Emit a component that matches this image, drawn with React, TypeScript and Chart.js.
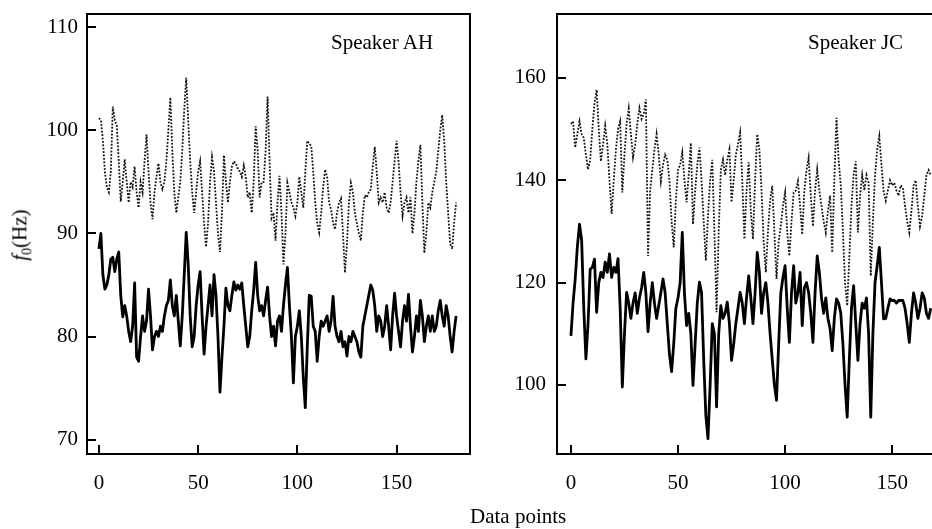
import React, { useEffect, useRef } from "react";
import { Chart, registerables } from "chart.js";

Chart.register(...registerables);

const FONT = "'Liberation Serif', 'Times New Roman', serif";

// Speaker AH (left panel)
const AH_UPPER: number[] = [
  101.2, 101, 99, 96, 94.5, 94, 96, 102.3, 101, 100.5,
  97, 93.1, 95, 97.2, 95, 93, 95, 94.5, 96.5, 94,
  92.5, 95, 94, 97, 99.6, 96, 93, 91.4, 94, 95.5,
  96.8, 95, 94.3, 95, 97, 100, 103.2, 98, 94, 92,
  93.5, 95, 98, 102, 105.1, 101, 97, 94, 92, 94,
  96, 97, 94, 91, 88.7, 91, 95, 97.4, 96, 93,
  90, 88.2, 92, 97.6, 95, 93, 95, 96.5, 97, 96.8,
  96.3, 96, 95.5, 96.6, 95.5, 93.5, 94, 92, 95, 100.4,
  98, 93.5, 95, 95, 98, 103.3, 97, 91.5, 92, 89.3,
  93, 95.6, 92, 87, 90, 94.9, 94, 93, 92.5, 91.7,
  93, 95.5, 94, 92.5, 96, 99, 98.7, 98.5, 96, 93,
  91, 90.1, 92, 94.5, 96.2, 95.5, 93, 92.3, 91, 90.4,
  92, 93, 93.4, 90, 86.2, 89, 93, 94.9, 94, 92,
  91, 90, 89.3, 92, 93.7, 93.5, 94, 94.3, 96.5, 98.4,
  96, 93, 93.5, 93, 94, 92.5, 92, 93, 95, 97,
  99, 97, 94, 91.7, 93, 93.5, 92, 93.5, 90, 92,
  95, 97, 98.6, 93, 88.1, 90, 93, 92.5, 94, 95,
  96, 98, 100, 101.5, 99, 95, 92, 89, 88.5, 91, 93,
];

const AH_LOWER: number[] = [
  88.5, 90, 86, 84.6, 85, 86, 87.5, 87.7, 86.3, 87.5,
  88.2, 84, 81.9, 83, 82, 80.5, 79.5, 81, 85.2, 78,
  77.6, 80, 82, 80.5, 81.5, 84.6, 82, 78.7, 80, 80.5,
  80, 81, 80.5, 82, 83, 83.5, 85.5, 83, 82, 84,
  81.5, 79.1, 82, 86, 90.1, 87, 82, 79, 80, 83,
  85, 86.3, 82, 78.3, 81, 83, 85, 82, 86, 84,
  80, 74.6, 78, 81, 84.7, 83, 82.5, 84, 85.3, 84.5,
  85, 84.6, 85.2, 83, 81, 79, 80, 82.5, 84.5, 87.2,
  84, 82.5, 83, 82, 83.5, 84.8, 82, 80, 81, 79.1,
  81.5, 82, 80.5, 83, 85, 86.7, 83, 80, 75.5, 80,
  81, 82.5, 80, 76, 73.1, 79, 84, 83.9, 81, 80.5,
  77.6, 80, 81.5, 81, 81.5, 82, 80.5, 81.5, 83.9, 81,
  80, 79.5, 80.5, 79, 79.5, 78.1, 80, 79.5, 80.5, 80,
  79.5, 78.5, 78, 81, 82, 83, 84, 85, 84.5, 83,
  80.5, 82, 81.5, 80, 81, 83, 81, 78.7, 82, 84.2,
  82, 80.5, 79, 81.5, 83, 81.5, 84.1, 81, 78.5, 80,
  82, 80.5, 83.5, 82, 79.5, 81, 82, 80.5, 82, 80.5,
  81, 82.5, 83.5, 82, 81, 83, 82, 80, 78.5, 80.5, 82,
];

// Speaker JC (right panel)
const JC_UPPER: number[] = [
  151, 151.5, 146.4, 149, 151.5, 149, 148.3, 145, 142.1, 144,
  150, 155, 157.7, 150, 143.7, 147, 150.6, 147, 140, 133.4,
  140, 146, 150, 151.5, 137.6, 145, 151, 154, 149, 144.5,
  147, 151, 154.1, 152, 153, 155.8, 125.2, 138, 142, 146,
  149, 145, 139.8, 143, 145, 144, 140, 132, 126.9, 136,
  142, 143, 145.4, 140, 135.7, 141, 147.3, 131.4, 138, 143,
  146.4, 140, 132, 124.3, 133, 140, 144, 130, 114.2, 130,
  142, 144, 141, 144, 146, 135.7, 140, 145, 147, 149.3,
  140, 128.5, 138, 143.5, 134, 128.5, 140, 149, 146, 138,
  128, 122, 130, 136, 138.9, 130, 120.7, 128, 131.1, 135,
  137.6, 130, 125.2, 132, 137.6, 138, 139.8, 135, 129.4, 138,
  142, 144.4, 137, 131, 138, 142.1, 138, 135, 132, 129.8,
  134, 137, 125.9, 140, 152.2, 144, 139, 130, 120, 115.5,
  125, 135, 141, 143.7, 129.8, 137, 141, 138, 141, 139.5,
  121.3, 132, 141, 146, 148.6, 143, 137.9, 136, 138, 140,
  139, 139.5, 138, 137, 139, 138.5, 135, 132, 129.8, 134,
  139, 140, 135, 131, 133, 137, 141, 142, 141,
];

const JC_LOWER: number[] = [
  109.6, 116, 120.7, 127, 131.4, 128.3, 115, 105.1, 112, 122.6,
  123, 124.6, 114.2, 120, 122, 121, 124, 122, 125.6, 121,
  123, 122, 124.7, 115, 99.6, 110, 118.1, 116, 113, 116,
  118, 114, 117, 119, 122, 118, 110.4, 116, 120, 116,
  113, 115.5, 118, 120.7, 118, 112, 106, 102.6, 108, 115,
  117, 120, 129.8, 118, 111.6, 114, 110, 99.9, 108, 116,
  120.1, 118, 105, 94, 89.5, 100, 112, 110, 95.7, 110,
  115.5, 113, 114, 116.2, 112, 104.8, 108, 112, 115, 118.1,
  116, 112, 117, 121.3, 117, 112, 118, 125.9, 122, 114,
  118, 120, 116, 110, 105, 100, 97, 108, 118, 121,
  123.3, 115, 108.3, 118, 123.3, 116, 118, 122, 111.6, 119,
  120, 118, 114, 108.3, 118, 125.2, 122, 117, 114, 117,
  113, 111, 106.7, 113, 116.8, 116, 114, 108, 100, 93.7,
  105, 115, 119.4, 112, 104.8, 112, 116, 115, 117, 110,
  93.7, 110, 120, 123.3, 126.9, 120, 112.9, 113, 115, 116.8,
  116.5, 116.5, 116, 116.5, 116.5, 116.5, 115, 112, 108.3, 114,
  118, 116, 113, 115, 118, 117, 114, 113, 115,
];

const X_TICKS = [0, 50, 100, 150];
const AH_Y_TICKS = [70, 80, 90, 100, 110];
const JC_Y_TICKS = [100, 120, 140, 160];

const framePlugin = {
  id: "frame",
  afterDraw(chart: any) {
    const { ctx, chartArea: a } = chart;
    ctx.save();
    ctx.strokeStyle = "#000";
    ctx.lineWidth = 2;
    ctx.strokeRect(a.left, a.top, a.right - a.left, a.bottom - a.top);
    ctx.restore();
  },
};

type PanelProps = {
  left: number;
  width: number;
  upper: number[];
  lower: number[];
  xMin: number;
  xMax: number;
  yMin: number;
  yMax: number;
  yTicks: number[];
  yAxisWidth: number;
  yPad: number;
  padRight: number;
};

function Panel(p: PanelProps) {
  const ref = useRef<HTMLCanvasElement | null>(null);
  useEffect(() => {
    if (!ref.current) return;
    const toPts = (arr: number[]) => arr.map((v, i) => ({ x: i, y: v }));
    const chart = new Chart(ref.current, {
      type: "line",
      data: {
        datasets: [
          {
            data: toPts(p.upper),
            borderColor: "#111",
            borderWidth: 1.8,
            borderDash: [1.8, 1.6],
            pointRadius: 0,
            tension: 0,
            fill: false,
          },
          {
            data: toPts(p.lower),
            borderColor: "#000",
            borderWidth: 2.8,
            pointRadius: 0,
            tension: 0,
            fill: false,
            borderJoinStyle: "round",
          },
        ],
      },
      options: {
        animation: false,
        responsive: false,
        layout: { padding: { left: 0, top: 14, right: p.padRight, bottom: 0 } },
        plugins: { legend: { display: false }, tooltip: { enabled: false } },
        scales: {
          x: {
            type: "linear",
            min: p.xMin,
            max: p.xMax,
            border: { display: false },
            grid: {
              display: true,
              drawOnChartArea: false,
              drawTicks: true,
              tickLength: -9,
              color: "#000",
              lineWidth: 2,
            },
            ticks: {
              color: "#000",
              padding: 26,
              font: { family: FONT, size: 21 },
              maxRotation: 0,
            },
            afterBuildTicks: (s: any) => {
              s.ticks = X_TICKS.map((v) => ({ value: v }));
            },
            afterFit: (s: any) => {
              s.height = 75;
              s.paddingLeft = 0;
              s.paddingRight = 0;
            },
          },
          y: {
            type: "linear",
            min: p.yMin,
            max: p.yMax,
            border: { display: false },
            grid: {
              display: true,
              drawOnChartArea: false,
              drawTicks: true,
              tickLength: -9,
              color: "#000",
              lineWidth: 2,
            },
            ticks: {
              color: "#000",
              padding: p.yPad,
              font: { family: FONT, size: 21 },
            },
            afterBuildTicks: (s: any) => {
              s.ticks = p.yTicks.map((v) => ({ value: v }));
            },
            afterFit: (s: any) => {
              s.width = p.yAxisWidth;
              s.paddingTop = 0;
              s.paddingBottom = 0;
            },
          },
        },
      },
      plugins: [framePlugin],
    });
    return () => chart.destroy();
  }, []);
  return (
    <canvas
      ref={ref}
      width={p.width}
      height={529}
      style={{ position: "absolute", left: p.left, top: 0, width: p.width, height: 529 }}
    />
  );
}

export default function App() {
  const txt: React.CSSProperties = {
    position: "absolute",
    fontFamily: FONT,
    fontSize: 21,
    color: "#000",
    whiteSpace: "nowrap",
    lineHeight: 1,
  };
  return (
    <div
      style={{
        position: "fixed",
        left: 0,
        top: 0,
        width: 932,
        height: 529,
        overflow: "hidden",
        background: "#fff",
      }}
    >
      <Panel
        left={0}
        width={480}
        upper={AH_UPPER}
        lower={AH_LOWER}
        xMin={-6}
        xMax={187}
        yMin={68.6}
        yMax={111.3}
        yTicks={AH_Y_TICKS}
        yAxisWidth={87}
        yPad={18}
        padRight={10}
      />
      <Panel
        left={480}
        width={460}
        upper={JC_UPPER}
        lower={JC_LOWER}
        xMin={-6.5}
        xMax={170}
        yMin={86.5}
        yMax={172.5}
        yTicks={JC_Y_TICKS}
        yAxisWidth={77}
        yPad={20}
        padRight={5}
      />
      <div style={{ ...txt, left: 331, top: 32 }}>Speaker AH</div>
      <div style={{ ...txt, left: 808, top: 32 }}>Speaker JC</div>
      <div style={{ ...txt, left: 470, top: 506 }}>Data points</div>
      <div
        style={{
          ...txt,
          left: 22,
          top: 235,
          transform: "translate(-50%, -50%) rotate(-90deg)",
        }}
      >
        <i>f</i>
        <sub style={{ fontSize: 14 }}>0</sub>(Hz)
      </div>
    </div>
  );
}
